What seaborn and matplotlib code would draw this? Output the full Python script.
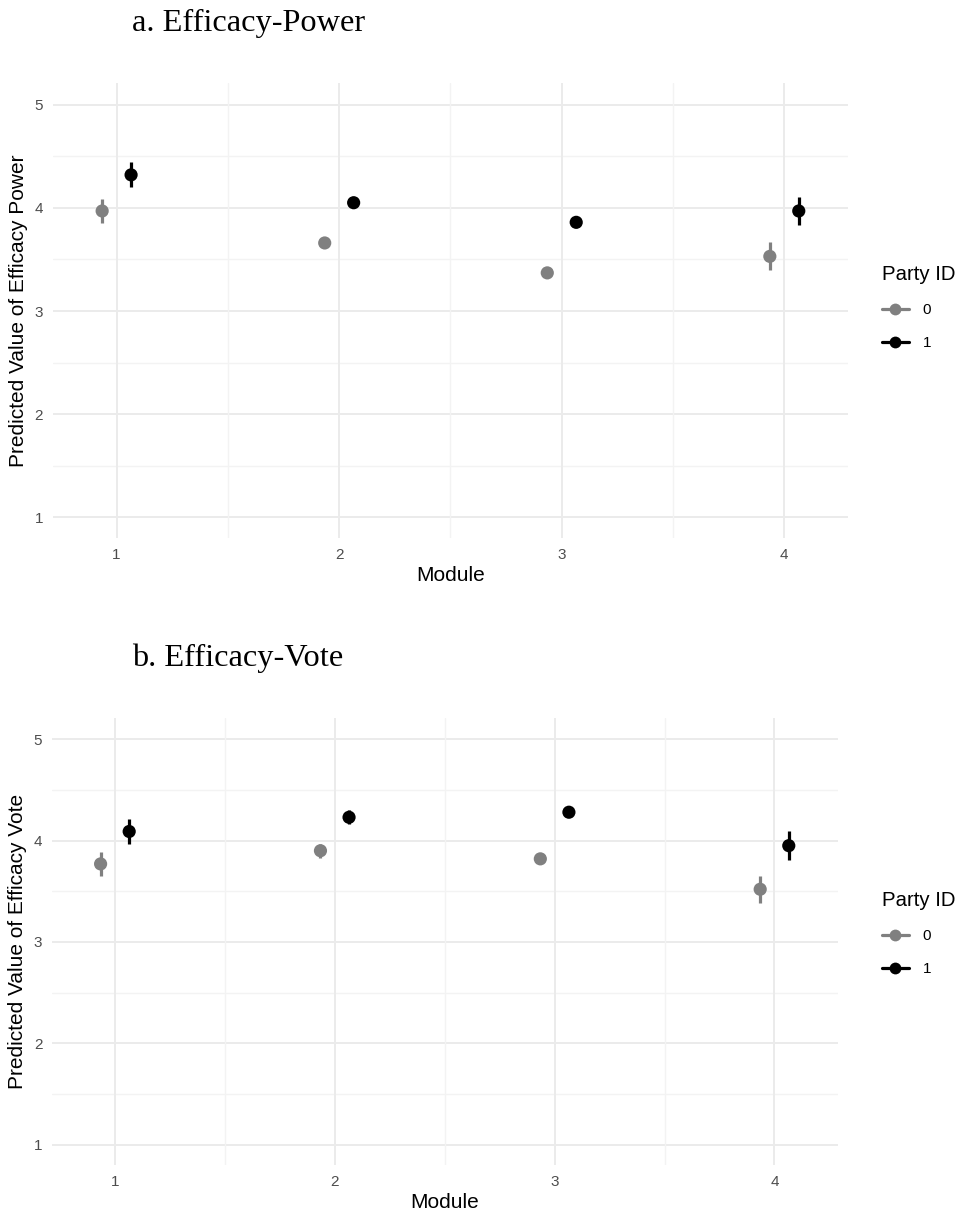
import numpy as np
import pandas as pd
import matplotlib
matplotlib.use("Agg")
import matplotlib.pyplot as plt
from matplotlib.lines import Line2D
import seaborn as sns

# data: estimate and half-width of the interval
modules = [1, 2, 3, 4]
party = ["0", "1"]

power_0 = [3.97, 3.66, 3.37, 3.53]
power_0_err = [0.12, 0.05, 0.02, 0.135]
power_1 = [4.32, 4.05, 3.86, 3.97]
power_1_err = [0.12, 0.055, 0.02, 0.14]

vote_0 = [3.77, 3.90, 3.82, 3.52]
vote_0_err = [0.12, 0.07, 0.02, 0.135]
vote_1 = [4.09, 4.23, 4.28, 3.95]
vote_1_err = [0.125, 0.07, 0.02, 0.14]

colors = {"0": "#808080", "1": "#000000"}
dodge = 0.065

sns.set_theme(style="white")
plt.rcParams["font.family"] = ["Liberation Sans", "DejaVu Sans"]
plt.rcParams["text.color"] = "black"
plt.rcParams["axes.labelcolor"] = "black"


def make_df(est0, err0, est1, err1):
    rows = []
    for g, est, err in [("0", est0, err0), ("1", est1, err1)]:
        for m, e, s in zip(modules, est, err):
            rows.append({"Module": m, "Party ID": g, "est": e, "lo": e - s, "hi": e + s})
    df = pd.DataFrame(rows)
    df["x"] = df["Module"] + np.where(df["Party ID"] == "0", -dodge, dodge)
    return df


def draw(ax, df, ylabel, legend_y):
    # grid like theme_minimal
    for v in [1.5, 2.5, 3.5, 4.5]:
        ax.axhline(v, color="#f3f3f3", lw=1.0, zorder=0)
    for v in [1, 2, 3, 4, 5]:
        ax.axhline(v, color="#ebebeb", lw=1.4, zorder=0)
    for v in [1.5, 2.5, 3.5]:
        ax.axvline(v, color="#f3f3f3", lw=1.0, zorder=0)
    for v in [1, 2, 3, 4]:
        ax.axvline(v, color="#ebebeb", lw=1.4, zorder=0)

    for g in party:
        sub = df[df["Party ID"] == g]
        ax.vlines(sub["x"], sub["lo"], sub["hi"], color=colors[g], lw=2.3, zorder=2)
    sns.scatterplot(data=df, x="x", y="est", hue="Party ID", palette=colors,
                    s=90, edgecolor="none", ax=ax, legend=False, zorder=3)

    ax.set_xlim(0.714, 4.288)
    ax.set_ylim(0.80, 5.21)
    ax.set_xticks(modules)
    ax.set_yticks([1, 2, 3, 4, 5])
    ax.tick_params(axis="both", length=0, labelsize=11, labelcolor="#4d4d4d")
    ax.tick_params(axis="y", pad=7)
    ax.tick_params(axis="x", pad=7)
    ax.set_xlabel("Module", fontsize=15, labelpad=3)
    ax.set_ylabel(ylabel, fontsize=15, labelpad=5)
    sns.despine(ax=ax, left=True, bottom=True)

    handles = [Line2D([0], [0], color=colors[g], lw=2.3, marker="o",
                      markersize=8.5, markeredgewidth=0) for g in party]
    leg = ax.figure.legend(handles, party, title="Party ID", loc="upper left",
                           bbox_to_anchor=(0.916, legend_y), frameon=False,
                           fontsize=11, title_fontsize=14.7, alignment="left",
                           handlelength=1.75, handletextpad=0.9, labelspacing=1.25,
                           borderpad=0, borderaxespad=0)
    return leg


fig = plt.figure(figsize=(9.63, 12.14), dpi=100)
ax1 = fig.add_axes([0.055, 0.5568, 0.826, 0.3748])
ax2 = fig.add_axes([0.054, 0.0404, 0.816, 0.3682])

df_power = make_df(power_0, power_0_err, power_1, power_1_err)
df_vote = make_df(vote_0, vote_0_err, vote_1, vote_1_err)

draw(ax1, df_power, "Predicted Value of Efficacy Power", 0.7815)
draw(ax2, df_vote, "Predicted Value of Efficacy Vote", 0.2660)

fig.text(0.137, 0.981, "a. Efficacy-Power", fontsize=23.3,
         family=["Liberation Serif", "DejaVu Serif"], va="center")
fig.text(0.137, 0.458, "b. Efficacy-Vote", fontsize=23.3,
         family=["Liberation Serif", "DejaVu Serif"], va="center")

fig.savefig("out.png", dpi=100)
